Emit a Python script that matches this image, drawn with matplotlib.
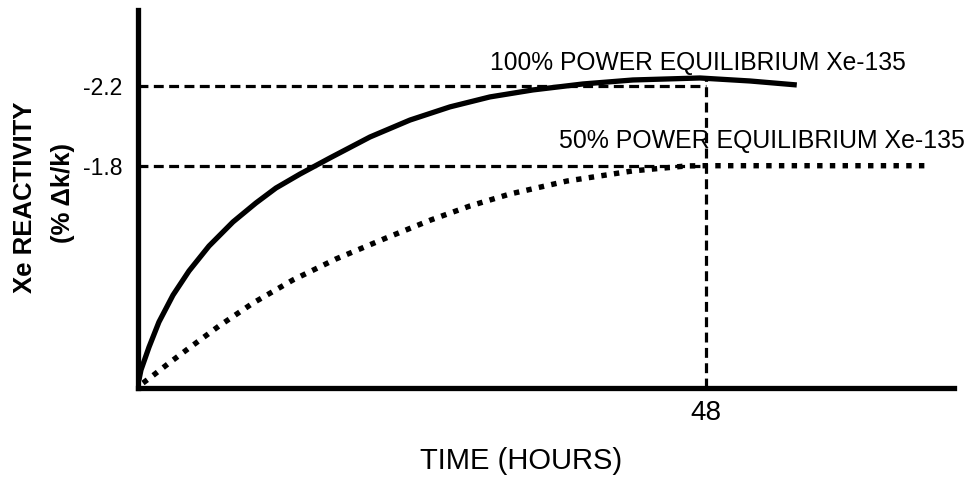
import matplotlib
matplotlib.use("Agg")
import matplotlib.pyplot as plt

plt.rcParams['font.family'] = ['Liberation Sans', 'DejaVu Sans']

# Data (time in hours, xenon reactivity magnitude in % dk/k)
t_full = [0.08, 0.25, 0.93, 1.77, 2.96, 4.31, 6.0, 8.03, 9.97, 11.66, 13.69, 16.23,
          19.61, 22.99, 26.37, 29.75, 33.38, 37.61, 41.83, 47.49, 51.72, 55.69]
xe_full = [0.725, 0.775, 0.89, 1.016, 1.151, 1.272, 1.397, 1.518, 1.613, 1.688, 1.758, 1.839,
           1.944, 2.029, 2.095, 2.145, 2.18, 2.21, 2.23, 2.24, 2.225, 2.205]

t_half = [0.42, 1.1, 2.62, 4.31, 6.85, 9.72, 13.1, 16.73, 20.96, 24.76, 28.06, 31.44,
          36.25, 41.83, 46.4, 48.0, 66.5]
xe_half = [0.71, 0.74, 0.81, 0.885, 0.996, 1.111, 1.227, 1.332, 1.437, 1.528, 1.598, 1.658,
           1.723, 1.774, 1.799, 1.80, 1.80]

eq_full = 2.2
eq_half = 1.8
t_eq = 48
ytick_vals = [1.8, 2.2]
ytick_labels = ['-1.8', '-2.2']
xtick_vals = [48]
xtick_labels = ['48']
label_full = '100% POWER EQUILIBRIUM Xe-135'
label_half = '50% POWER EQUILIBRIUM Xe-135'

fig = plt.figure(figsize=(9.76, 4.8), dpi=100)
ax = fig.add_axes([138/976, 92/480, 816/976, 378/480])

ax.set_xlim(0, 68.98)
ax.set_ylim(0.685, 2.581)

# reference dashed lines
dash_kw = dict(color='black', lw=2.3, dashes=(3.1, 1.7), dash_capstyle='butt')
ax.plot([0, t_eq], [eq_full, eq_full], **dash_kw)
ax.plot([0, t_eq], [eq_half, eq_half], **dash_kw)
ax.plot([t_eq, t_eq], [0.685, 2.24], **dash_kw)

ax.plot(t_full, xe_full, color='black', lw=3.8, solid_capstyle='butt', solid_joinstyle='round')
ax.plot(t_half, xe_half, color='black', lw=3.9, linestyle=(0, (1, 1.35)), dash_capstyle='butt')

ax.text(29.75, 2.315, label_full, fontsize=17.7, va='center', ha='left')
ax.text(35.6, 1.922, label_half, fontsize=17.9, va='center', ha='left')

for s in ['top', 'right']:
    ax.spines[s].set_visible(False)
for s in ['left', 'bottom']:
    ax.spines[s].set_linewidth(3.8)

ax.set_yticks(ytick_vals)
ax.set_yticklabels(ytick_labels, fontsize=16.5)
ax.set_xticks(xtick_vals)
ax.set_xticklabels(xtick_labels, fontsize=20)
ax.tick_params(length=0)
ax.tick_params(axis='y', pad=11)
ax.tick_params(axis='x', pad=9)

fig.text(521/976, 1 - 461/480, 'TIME (HOURS)', fontsize=21, ha='center', va='center')
fig.text(25/976, 1 - 197/480, 'Xe REACTIVITY', fontsize=18.5, fontweight='bold',
         rotation=90, ha='center', va='center')
fig.text(63/976, 1 - 193/480, '(% Δk/k)', fontsize=18.5, fontweight='bold',
         rotation=90, ha='center', va='center')

fig.savefig('out.png', dpi=100)
